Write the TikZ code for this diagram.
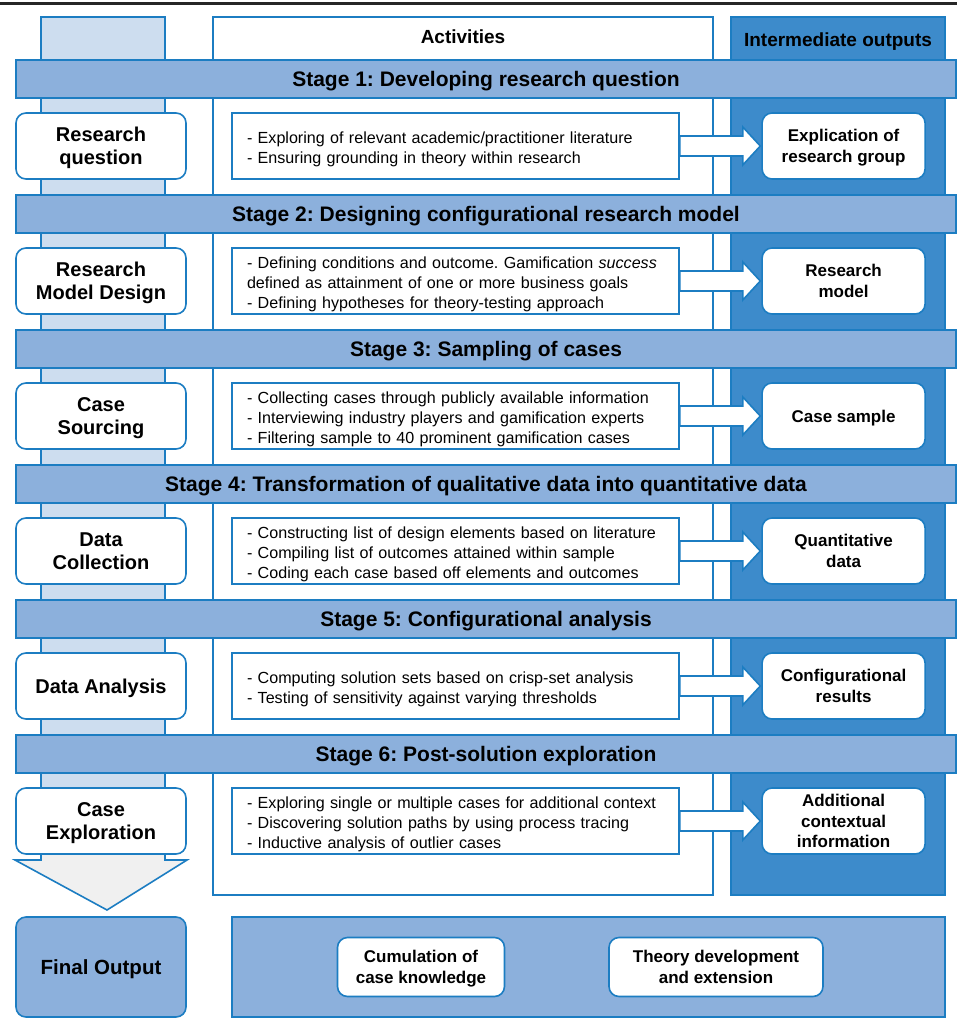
\documentclass[tikz,border=0pt]{standalone}
\usepackage{fontspec}
\setmainfont{Liberation Sans}
\usetikzlibrary{positioning, calc}

\definecolor{edgeblue}{RGB}{28,125,194}
\definecolor{barblue}{RGB}{140,176,220}
\definecolor{outblue}{RGB}{61,139,203}
\definecolor{paleblue}{RGB}{205,221,239}
\definecolor{palegray}{RGB}{240,240,240}

\frenchspacing

\begin{document}
\begin{tikzpicture}[
  x=1pt, y=-1pt,
  line width=1.6pt,
  stagebar/.style={rectangle, draw=edgeblue, fill=barblue, minimum width=940pt, minimum height=38pt, inner sep=0pt, text height=15pt, text depth=0pt, font=\bfseries\fontsize{21}{24}\selectfont},
  phase/.style={rectangle, draw=edgeblue, fill=white, rounded corners=10pt, minimum width=170pt, minimum height=66pt, inner sep=2pt, text depth=-2pt, align=center, font=\bfseries\fontsize{20}{23.5}\selectfont},
  activity/.style={rectangle, draw=edgeblue, fill=white, minimum height=66pt, text width=417pt, inner xsep=15pt, inner ysep=2pt, text height=18.5pt, align=left, font=\fontsize{16.1}{20}\selectfont},
  output/.style={rectangle, draw=edgeblue, fill=white, rounded corners=10pt, minimum width=163pt, minimum height=66pt, inner sep=2pt, text depth=-2pt, align=center, font=\bfseries\fontsize{17}{20.5}\selectfont},
  header/.style={font=\bfseries\fontsize{19}{22}\selectfont},
  blockarr/.style={draw=edgeblue, fill=white, line join=miter}
]
  \useasboundingbox (0,0) rectangle (957,1030);
  \draw[line width=3pt, black!85] (0,4) -- (957,4);

  % columns
  \fill[paleblue] (41,17) rectangle (165,850);
  \fill[palegray] (41,850) -- (165,850) -- (165,860) -- (187,860) -- (107,910) -- (15,860) -- (41,860) -- cycle;
  \draw[edgeblue, line join=miter] (41,17) -- (165,17) -- (165,860) -- (187,860) -- (107,910) -- (15,860) -- (41,860) -- cycle;
  \draw[edgeblue, fill=white] (213,17) rectangle (713,895);
  \draw[edgeblue, fill=outblue] (731,17) rectangle (945,895);
  \node[header] (acthead) at (463,37) {Activities};
  \node[header] (outhead) at (838,41.5) {Intermediate outputs};

  % stages
  \node[stagebar] (stage1) at (486,79) {Stage 1: Developing research question};
  \node[stagebar] (stage2) at (486,214) {Stage 2: Designing configurational research model};
  \node[stagebar] (stage3) at (486,349) {Stage 3: Sampling of cases};
  \node[stagebar] (stage4) at (486,484) {Stage 4: Transformation of qualitative data into quantitative data};
  \node[stagebar] (stage5) at (486,619) {Stage 5: Configurational analysis};
  \node[stagebar] (stage6) at (486,754) {Stage 6: Post-solution exploration};

  \node[phase] (phase1) at (101,146) {Research\\question};
  \node[phase] (phase2) at (101,281) {Research\\Model Design};
  \node[phase] (phase3) at (101,416) {Case\\Sourcing};
  \node[phase] (phase4) at (101,551) {Data\\Collection};
  \node[phase] (phase5) at (101,686) {Data Analysis};
  \node[phase] (phase6) at (101,821) {Case\\Exploration};

  \node[activity, right=44.4pt of phase1] (act1) {- Exploring of relevant academic/practitioner literature\\- Ensuring grounding in theory within research};
  \node[activity, right=44.4pt of phase2] (act2) {- Defining conditions and outcome. Gamification \textit{success}\\defined as attainment of one or more business goals\\- Defining hypotheses for theory-testing approach};
  \node[activity, right=44.4pt of phase3] (act3) {- Collecting cases through publicly available information\\- Interviewing industry players and gamification experts\\- Filtering sample to 40 prominent gamification cases};
  \node[activity, right=44.4pt of phase4] (act4) {- Constructing list of design elements based on literature\\- Compiling list of outcomes attained within sample\\- Coding each case based off elements and outcomes};
  \node[activity, right=44.4pt of phase5] (act5) {- Computing solution sets based on crisp-set analysis\\- Testing of sensitivity against varying thresholds};
  \node[activity, right=44.4pt of phase6] (act6) {- Exploring single or multiple cases for additional context\\- Discovering solution paths by using process tracing\\- Inductive analysis of outlier cases};

  \node[output, right=81.5pt of act1] (out1) {Explication of\\research group};
  \node[output, right=81.5pt of act2] (out2) {Research\\model};
  \node[output, right=81.5pt of act3] (out3) {Case sample};
  \node[output, right=81.5pt of act4] (out4) {Quantitative\\data};
  \node[output, right=81.5pt of act5] (out5) {Configurational\\results};
  \node[output, right=81.5pt of act6] (out6) {Additional\\contextual\\information};

  \draw[blockarr] ($(act1.east)+(0,-10)$) -- ($(act1.east)+(63,-10)$) -- ($(act1.east)+(63,-19)$) -- ($(out1.west)+(-1,0)$) -- ($(act1.east)+(63,19)$) -- ($(act1.east)+(63,10)$) -- ($(act1.east)+(0,10)$) -- cycle;
  \draw[blockarr] ($(act2.east)+(0,-10)$) -- ($(act2.east)+(63,-10)$) -- ($(act2.east)+(63,-19)$) -- ($(out2.west)+(-1,0)$) -- ($(act2.east)+(63,19)$) -- ($(act2.east)+(63,10)$) -- ($(act2.east)+(0,10)$) -- cycle;
  \draw[blockarr] ($(act3.east)+(0,-10)$) -- ($(act3.east)+(63,-10)$) -- ($(act3.east)+(63,-19)$) -- ($(out3.west)+(-1,0)$) -- ($(act3.east)+(63,19)$) -- ($(act3.east)+(63,10)$) -- ($(act3.east)+(0,10)$) -- cycle;
  \draw[blockarr] ($(act4.east)+(0,-10)$) -- ($(act4.east)+(63,-10)$) -- ($(act4.east)+(63,-19)$) -- ($(out4.west)+(-1,0)$) -- ($(act4.east)+(63,19)$) -- ($(act4.east)+(63,10)$) -- ($(act4.east)+(0,10)$) -- cycle;
  \draw[blockarr] ($(act5.east)+(0,-10)$) -- ($(act5.east)+(63,-10)$) -- ($(act5.east)+(63,-19)$) -- ($(out5.west)+(-1,0)$) -- ($(act5.east)+(63,19)$) -- ($(act5.east)+(63,10)$) -- ($(act5.east)+(0,10)$) -- cycle;
  \draw[blockarr] ($(act6.east)+(0,-10)$) -- ($(act6.east)+(63,-10)$) -- ($(act6.east)+(63,-19)$) -- ($(out6.west)+(-1,0)$) -- ($(act6.east)+(63,19)$) -- ($(act6.east)+(63,10)$) -- ($(act6.east)+(0,10)$) -- cycle;

  % final output
  \node[phase, fill=barblue, minimum height=100pt, font=\bfseries\fontsize{20.5}{24}\selectfont] (final) at (101,967) {Final Output};
  \node[rectangle, draw=edgeblue, fill=barblue, minimum width=713pt, minimum height=100pt, right=44.4pt of final] (results) {};
  \node[output, minimum width=167pt, minimum height=59pt] (cumul) at (421,967) {Cumulation of\\case knowledge};
  \node[output, minimum width=214pt, minimum height=59pt] (theory) at (716,967) {Theory development\\and extension};
\end{tikzpicture}
\end{document}
